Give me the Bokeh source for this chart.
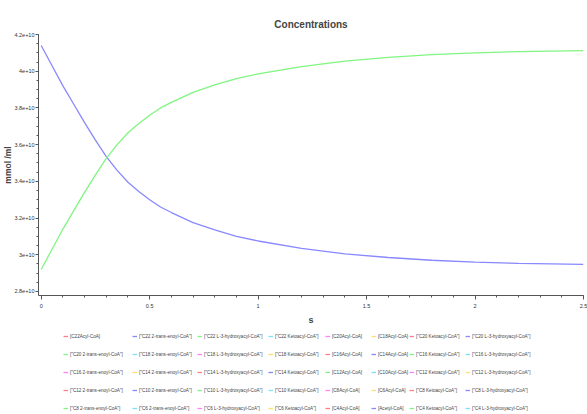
from bokeh.plotting import figure
from bokeh.layouts import column
from bokeh.models import Legend, LegendItem, FixedTicker, Range1d
from bokeh.embed import file_html
from bokeh.resources import INLINE

# ---- data ----
time_s = [0, 0.05, 0.1, 0.15, 0.2, 0.25, 0.3, 0.35, 0.4, 0.45, 0.5, 0.55, 0.6, 0.7, 0.8, 0.9, 1.0,
          1.2, 1.4, 1.6, 1.8, 2.0, 2.2, 2.5]
acetyl_coa = [4.14e10, 4.03e10, 3.92e10, 3.82e10, 3.72e10, 3.625e10, 3.535e10, 3.46e10, 3.395e10,
              3.345e10, 3.30e10, 3.26e10, 3.23e10, 3.175e10, 3.135e10, 3.10e10, 3.075e10,
              3.035e10, 3.005e10, 2.985e10, 2.97e10, 2.96e10, 2.953e10, 2.948e10]
c4_ketoacyl_coa = [2.92e10, 3.03e10, 3.14e10, 3.24e10, 3.34e10, 3.435e10, 3.525e10, 3.60e10, 3.665e10,
                   3.715e10, 3.76e10, 3.80e10, 3.83e10, 3.885e10, 3.925e10, 3.96e10, 3.985e10,
                   4.025e10, 4.055e10, 4.075e10, 4.09e10, 4.10e10, 4.107e10, 4.112e10]

series_names = [
    '[C22Acyl-CoA]', '["C22 2-trans-enoyl-CoA"]', '["C22 L-3-hydroxyacyl-CoA"]', '["C22 Ketoacyl-CoA"]',
    '[C20Acyl-CoA]', '[C18Acyl-CoA]', '["C20 Ketoacyl-CoA"]', '["C20 L-3-hydroxyacyl-CoA"]',
    '["C20 2-trans-enoyl-CoA"]', '["C18 2-trans-enoyl-CoA"]', '["C18 L-3-hydroxyacyl-CoA"]', '["C18 Ketoacyl-CoA"]',
    '[C16Acyl-CoA]', '[C14Acyl-CoA]', '["C16 Ketoacyl-CoA"]', '["C16 L-3-hydroxyacyl-CoA"]',
    '["C16 2-trans-enoyl-CoA"]', '["C14 2-trans-enoyl-CoA"]', '["C14 L-3-hydroxyacyl-CoA"]', '["C14 Ketoacyl-CoA"]',
    '[C12Acyl-CoA]', '[C10Acyl-CoA]', '["C12 Ketoacyl-CoA"]', '["C12 L-3-hydroxyacyl-CoA"]',
    '["C12 2-trans-enoyl-CoA"]', '["C10 2-trans-enoyl-CoA"]', '["C10 L-3-hydroxyacyl-CoA"]', '["C10 Ketoacyl-CoA"]',
    '[C8Acyl-CoA]', '[C6Acyl-CoA]', '["C8 Ketoacyl-CoA"]', '["C8 L-3-hydroxyacyl-CoA"]',
    '["C8 2-trans-enoyl-CoA"]', '["C6 2-trans-enoyl-CoA"]', '["C6 L-3-hydroxyacyl-CoA"]', '["C6 Ketoacyl-CoA"]',
    '[C4Acyl-CoA]', '[Acetyl-CoA]', '["C4 Ketoacyl-CoA"]', '["C4 L-3-hydroxyacyl-CoA"]',
]
palette = ["#ff7f7f", "#8888ff", "#80f580", "#7fdfff", "#ff7fff", "#ffdf6f"]

x_ticks = [0, 0.5, 1, 1.5, 2, 2.5]
x_tick_labels = ["0", "0.5", "1", "1.5", "2", "2.5"]
y_ticks = [2.8e10, 3.0e10, 3.2e10, 3.4e10, 3.6e10, 3.8e10, 4.0e10, 4.2e10]
y_tick_labels = ["2.8e+10", "3e+10", "3.2e+10", "3.4e+10", "3.6e+10", "3.8e+10", "4e+10", "4.2e+10"]

series_data = {'[Acetyl-CoA]': acetyl_coa, '["C4 Ketoacyl-CoA"]': c4_ketoacyl_coa}

FONT = "Liberation Sans"
N_COLS = 8
col_offsets = [25, 94, 159, 230, 287, 333, 371, 427]

# ---- main plot ----
p = figure(width=587, height=327, output_backend="svg", toolbar_location=None,
           x_range=Range1d(-0.0125, 2.5), y_range=Range1d(2.778e10, 4.2e10),
           min_border_left=32, min_border_right=4, min_border_top=34, min_border_bottom=30)
p.title.text = "Concentrations"
p.title.align = "center"
p.title.text_font = FONT
p.title.text_font_size = "10px"
p.title.text_font_style = "bold"
p.title.standoff = 10
p.outline_line_color = None
p.xgrid.visible = False
p.ygrid.visible = False

p.xaxis.ticker = FixedTicker(ticks=x_ticks, minor_ticks=[i * 0.1 for i in range(26)])
p.xaxis.major_label_overrides = dict(zip(x_ticks, x_tick_labels))
p.yaxis.ticker = FixedTicker(ticks=y_ticks, minor_ticks=[2.8e10 + i * 0.05e10 for i in range(29)])
p.yaxis.major_label_overrides = dict(zip(y_ticks, y_tick_labels))
p.xaxis.axis_label = "s"
p.yaxis.axis_label = "mmol /ml"
for ax in (p.xaxis, p.yaxis):
    ax.axis_line_color = "#555555"
    ax.major_tick_line_color = "#555555"
    ax.minor_tick_line_color = "#555555"
    ax.major_tick_out = 4
    ax.major_tick_in = 0
    ax.minor_tick_out = 2
    ax.minor_tick_in = 0
    ax.major_label_text_font = FONT
    ax.major_label_text_font_size = "5.5px"
    ax.major_label_text_color = "#333333"
    ax.axis_label_text_font = FONT
    ax.axis_label_text_font_style = "bold"
p.yaxis.major_tick_out = 3
p.yaxis.major_label_orientation = "horizontal"
p.yaxis.major_label_standoff = 1
p.yaxis.axis_label_standoff = -2
p.yaxis.axis_label_text_font_size = "8.5px"
p.xaxis.major_label_standoff = 4
p.xaxis.axis_label_standoff = 4
p.xaxis.axis_label_text_font_size = "9px"

for i, name in enumerate(series_names):
    ys = series_data.get(name, [])
    xs = time_s if ys else []
    p.line(xs, ys, line_color=palette[i % 6], line_width=1.3)

# ---- legend strip (one swatch renderer per series, no visible data) ----
nan = float("nan")
lg = figure(width=587, height=87, output_backend="svg", toolbar_location=None,
            x_range=Range1d(0, 1), y_range=Range1d(0, 1), min_border=0,
            x_axis_location=None, y_axis_location=None)
lg.outline_line_color = None
lg.xgrid.visible = False
lg.ygrid.visible = False
leg_renderers = [lg.line([nan], [nan], line_color=palette[i % 6], line_width=1.3)
                 for i in range(len(series_names))]
for c in range(N_COLS):
    col_items = [LegendItem(label=series_names[k], renderers=[leg_renderers[k]])
                 for k in range(c, len(series_names), N_COLS)]
    leg = Legend(items=col_items, location=(col_offsets[c], 1), orientation="vertical",
                 label_text_font=FONT, label_text_font_size="4.6px", label_text_color="#444444",
                 label_height=10, glyph_height=10, glyph_width=5, label_standoff=2,
                 spacing=8, padding=0, margin=0,
                 border_line_color=None, background_fill_alpha=0)
    lg.add_layout(leg, "center")

layout = column(p, lg, spacing=0)
open("out.html", "w").write(file_html(layout, INLINE))
